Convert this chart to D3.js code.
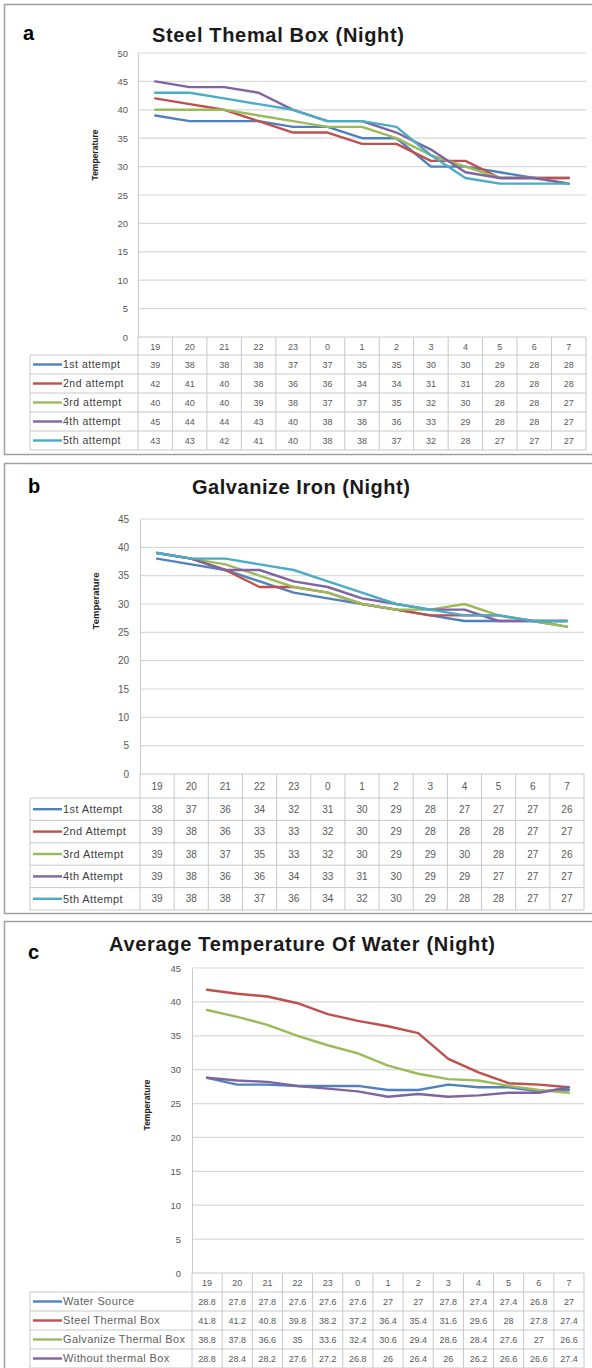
<!DOCTYPE html>
<html><head><meta charset="utf-8">
<script src="https://cdn.jsdelivr.net/npm/d3@7"></script>
<style>
html,body{margin:0;padding:0;background:#fff;}
svg{display:block;font-family:"Liberation Sans",Arial,sans-serif;}
</style></head>
<body><svg id="chart" width="592" height="1368"></svg>
<script>
// ---------- DATA ----------
const hours = ["19","20","21","22","23","0","1","2","3","4","5","6","7"];

const steelNames = ["1st attempt","2nd attempt","3rd attempt","4th attempt","5th attempt"];
const steel1 = [39,38,38,38,37,37,35,35,30,30,29,28,28];
const steel2 = [42,41,40,38,36,36,34,34,31,31,28,28,28];
const steel3 = [40,40,40,39,38,37,37,35,32,30,28,28,27];
const steel4 = [45,44,44,43,40,38,38,36,33,29,28,28,27];
const steel5 = [43,43,42,41,40,38,38,37,32,28,27,27,27];
const steelTicks = [0,5,10,15,20,25,30,35,40,45,50];

const galvNames = ["1st Attempt","2nd Attempt","3rd Attempt","4th Attempt","5th Attempt"];
const galv1 = [38,37,36,34,32,31,30,29,28,27,27,27,26];
const galv2 = [39,38,36,33,33,32,30,29,28,28,28,27,27];
const galv3 = [39,38,37,35,33,32,30,29,29,30,28,27,26];
const galv4 = [39,38,36,36,34,33,31,30,29,29,27,27,27];
const galv5 = [39,38,38,37,36,34,32,30,29,28,28,27,27];
const galvTicks = [0,5,10,15,20,25,30,35,40,45];

const avgNames = ["Water Source","Steel Thermal Box","Galvanize Thermal Box","Without thermal Box"];
const avgWater   = [28.8,27.8,27.8,27.6,27.6,27.6,27,27,27.8,27.4,27.4,26.8,27];
const avgSteel   = [41.8,41.2,40.8,39.8,38.2,37.2,36.4,35.4,31.6,29.6,28,27.8,27.4];
const avgGalv    = [38.8,37.8,36.6,35,33.6,32.4,30.6,29.4,28.6,28.4,27.6,27,26.6];
const avgWithout = [28.8,28.4,28.2,27.6,27.2,26.8,26,26.4,26,26.2,26.6,26.6,27.4];
const avgTicks = [0,5,10,15,20,25,30,35,40,45];

const titles = ["Steel Themal Box (Night)","Galvanize Iron (Night)","Average Temperature Of Water (Night)"];
const letters = ["a","b","c"];
const yTitle = "Temperature";

// ---------- STYLE ----------
const colors = ["#4F81BD","#C0504D","#9BBB59","#8064A2","#4BACC6"];
const gridCol = "#d9d9d9", tableCol = "#c8c8c8", textCol = "#595959";

const svg = d3.select("#chart");

function panel(cfg){
  const g = svg.append("g");
  g.append("rect").attr("x",cfg.box[0]).attr("y",cfg.box[1])
    .attr("width",cfg.box[2]).attr("height",cfg.box[3])
    .attr("fill","none").attr("stroke","#a0a0a0").attr("stroke-width",1.5);
  g.append("text").attr("x",cfg.letter[0]).attr("y",cfg.letter[1])
    .attr("font-size",20).attr("font-weight","bold").attr("fill","#000").text(cfg.letterText);
  g.append("text").attr("x",cfg.title[0]).attr("y",cfg.title[1]).attr("text-anchor","middle")
    .attr("font-size",cfg.titleSize).attr("font-weight","bold").attr("fill","#1a1a1a")
    .attr("textLength",cfg.titleLen).attr("lengthAdjust","spacing").text(cfg.titleText);

  const x = d3.scaleBand().domain(hours).range([cfg.x0,cfg.x1]).padding(0);
  const y = d3.scaleLinear().domain([0,d3.max(cfg.ticks)]).range([cfg.y0,cfg.yTop]);

  g.append("g").selectAll("line").data(cfg.ticks.filter(t=>t>0)).join("line")
    .attr("x1",cfg.x0).attr("x2",cfg.x1).attr("y1",d=>y(d)).attr("y2",d=>y(d))
    .attr("stroke",gridCol).attr("stroke-width",1.2);
  const ya = g.append("g").attr("transform",`translate(${cfg.x0},0)`)
    .call(d3.axisLeft(y).tickValues(cfg.ticks).tickSize(0).tickPadding(cfg.tickPad));
  ya.select(".domain").attr("stroke",tableCol);
  ya.selectAll("text").attr("font-size",cfg.tickSize).attr("fill",textCol)
    .attr("font-family","Liberation Sans, Arial, sans-serif");

  g.append("text").attr("transform",`translate(${cfg.yTitle[0]},${cfg.yTitle[1]}) rotate(-90)`)
    .attr("text-anchor","middle").attr("font-size",cfg.yTitleSize).attr("font-weight","bold")
    .attr("fill","#222").text(yTitle);

  const line = d3.line().x((d,i)=>x(hours[i])+x.bandwidth()/2).y(d=>y(d));
  cfg.series.forEach((s,i)=>{
    g.append("path").datum(s).attr("d",line).attr("fill","none")
      .attr("stroke",colors[i]).attr("stroke-width",2.4)
      .attr("stroke-linejoin","round").attr("stroke-linecap","round");
  });

  const t = g.append("g");
  const headerBottom = cfg.y0 + cfg.headH;
  const nRows = cfg.series.length;
  const tBottom = headerBottom + nRows*cfg.rowH;
  t.append("line").attr("x1",cfg.x0).attr("x2",cfg.x1).attr("y1",cfg.y0).attr("y2",cfg.y0)
    .attr("stroke",tableCol);
  d3.range(nRows+1).forEach(r=>{
    const yy = headerBottom + r*cfg.rowH;
    t.append("line").attr("x1",cfg.labX).attr("x2",cfg.x1).attr("y1",yy).attr("y2",yy).attr("stroke",tableCol);
  });
  hours.forEach((h,i)=>{
    t.append("line").attr("x1",x(h)).attr("x2",x(h)).attr("y1",cfg.y0).attr("y2",tBottom).attr("stroke",tableCol);
  });
  t.append("line").attr("x1",cfg.x1).attr("x2",cfg.x1).attr("y1",cfg.y0).attr("y2",tBottom).attr("stroke",tableCol);
  t.append("line").attr("x1",cfg.labX).attr("x2",cfg.labX).attr("y1",headerBottom).attr("y2",tBottom).attr("stroke",tableCol);
  t.selectAll("text.h").data(hours).join("text").attr("class","h")
    .attr("x",d=>x(d)+x.bandwidth()/2).attr("y",cfg.y0+cfg.headH/2+3.5)
    .attr("text-anchor","middle").attr("font-size",cfg.cellSize).attr("fill",textCol).text(d=>d);
  cfg.series.forEach((s,r)=>{
    const cy = headerBottom + r*cfg.rowH + cfg.rowH/2;
    t.append("line").attr("x1",cfg.labX+3).attr("x2",cfg.labX+32).attr("y1",cy).attr("y2",cy)
      .attr("stroke",colors[r]).attr("stroke-width",2.4);
    t.append("text").attr("x",cfg.labX+33).attr("y",cy+3.8).attr("font-size",cfg.labSize)
      .attr("letter-spacing",cfg.labSpace).attr("fill",cfg.labCol).text(cfg.names[r]);
    t.selectAll(null).data(s).join("text")
      .attr("x",(d,i)=>x(hours[i])+x.bandwidth()/2).attr("y",cy+3.5)
      .attr("text-anchor","middle").attr("font-size",cfg.cellSize).attr("fill",textCol).text(d=>d);
  });
}

panel({
  box:[4.5,4.5,620,450], letter:[23,40], letterText:letters[0],
  title:[278,42], titleText:titles[0], titleSize:20, titleLen:252,
  x0:138, x1:586, y0:337, yTop:53, ticks:steelTicks, tickPad:10, tickSize:9.5,
  yTitle:[98,155], yTitleSize:8.5,
  series:[steel1,steel2,steel3,steel4,steel5], names:steelNames,
  headH:18, rowH:19, labX:30, labSize:10.5, labSpace:0.5, labCol:"#404040", cellSize:9
});

panel({
  box:[4.5,463.5,620,450], letter:[28,493], letterText:letters[1],
  title:[301,494], titleText:titles[1], titleSize:20, titleLen:218,
  x0:140, x1:584, y0:774, yTop:519, ticks:galvTicks, tickPad:11, tickSize:10,
  yTitle:[99,601], yTitleSize:9.5,
  series:[galv1,galv2,galv3,galv4,galv5], names:galvNames,
  headH:24, rowH:22.4, labX:30, labSize:11, labSpace:0.4, labCol:"#404040", cellSize:10
});

panel({
  box:[4.5,921.5,620,460], letter:[28,959], letterText:letters[2],
  title:[302,951], titleText:titles[2], titleSize:20, titleLen:386,
  x0:192, x1:584, y0:1273, yTop:968, ticks:avgTicks, tickPad:11, tickSize:9.5,
  yTitle:[150,1105], yTitleSize:8.5,
  series:[avgWater,avgSteel,avgGalv,avgWithout], names:avgNames,
  headH:19, rowH:19, labX:30, labSize:11, labSpace:0.4, labCol:"#606060", cellSize:9
});
</script>
</body></html>
